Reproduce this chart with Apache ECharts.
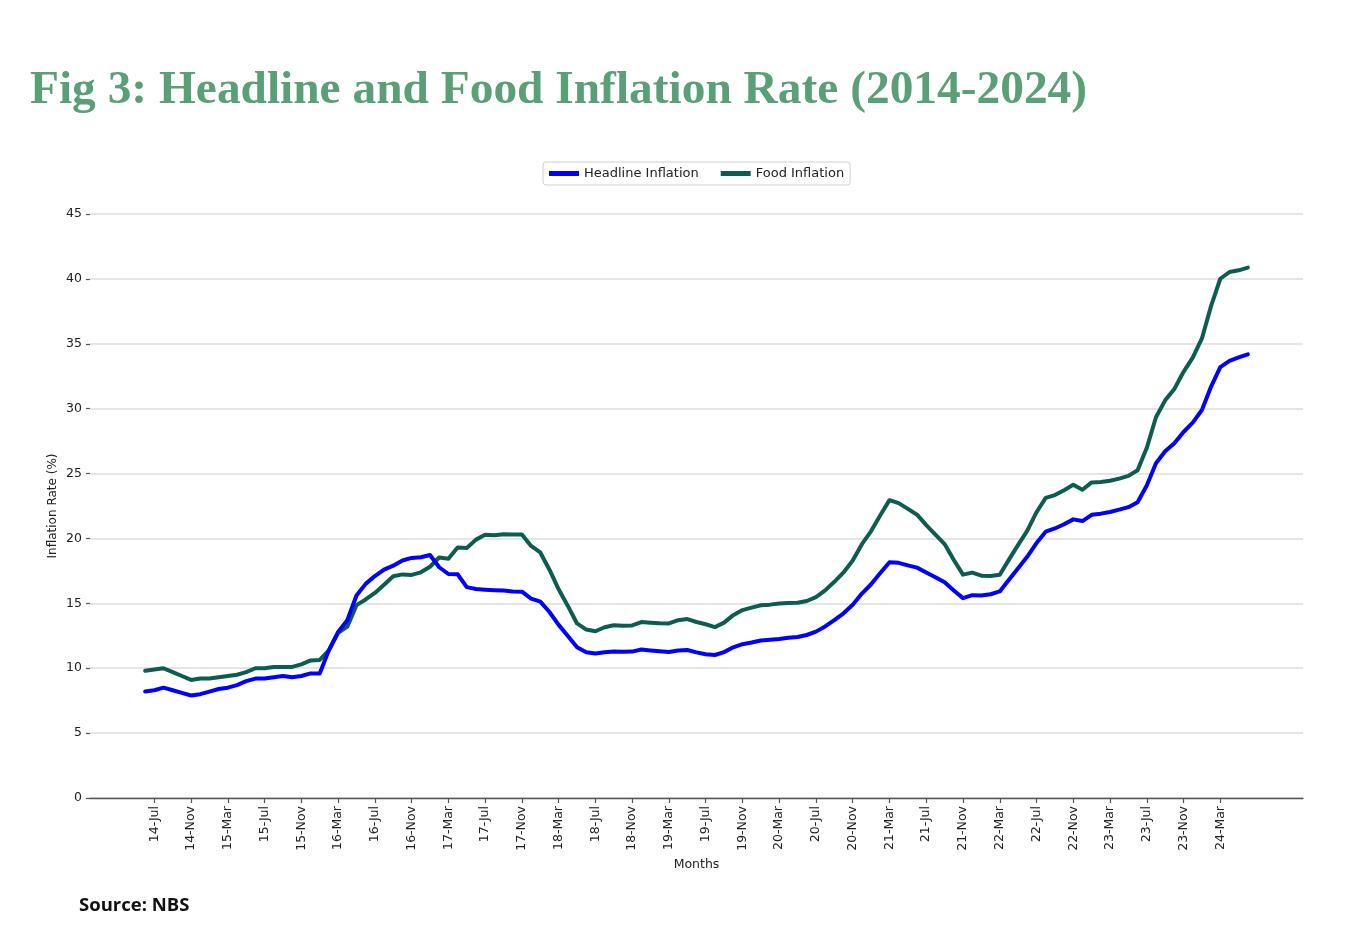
<!DOCTYPE html>
<html>
<head>
<meta charset="utf-8">
<script src="https://cdn.jsdelivr.net/npm/echarts@6/dist/echarts.min.js"></script>
<style>
  html, body { margin: 0; padding: 0; background: #ffffff; }
  #chart { width: 1351px; height: 946px; }
</style>
</head>
<body>
<div id="chart"></div>
<script>
// Monthly data, Jun 2014 (index 0) to Jun 2024 (index 120)
const headline = [
  8.2, 8.3, 8.5, 8.3, 8.1, 7.9, 8.0,
  8.2, 8.4, 8.5, 8.7, 9.0, 9.2, 9.2, 9.3, 9.4, 9.3, 9.4, 9.6,
  9.6, 11.4, 12.8, 13.7, 15.6, 16.5, 17.1, 17.6, 17.9, 18.3, 18.5, 18.55,
  18.72, 17.78, 17.26, 17.24, 16.25, 16.10, 16.05, 16.01, 15.98, 15.91, 15.90, 15.37,
  15.13, 14.33, 13.34, 12.48, 11.61, 11.23, 11.14, 11.23, 11.28, 11.26, 11.28, 11.44,
  11.37, 11.31, 11.25, 11.37, 11.40, 11.22, 11.08, 11.02, 11.24, 11.61, 11.85, 11.98,
  12.13, 12.20, 12.26, 12.34, 12.40, 12.56, 12.82, 13.22, 13.71, 14.23, 14.89, 15.75,
  16.47, 17.33, 18.17, 18.12, 17.93, 17.75, 17.38, 17.01, 16.63, 15.99, 15.40, 15.63,
  15.60, 15.70, 15.92, 16.82, 17.71, 18.60, 19.64, 20.52, 20.77, 21.09, 21.47, 21.34,
  21.82, 21.91, 22.04, 22.22, 22.41, 22.79, 24.08, 25.80, 26.72, 27.33, 28.20, 28.92,
  29.90, 31.70, 33.20, 33.69, 33.95, 34.19
];
const food = [
  9.8, 9.9, 10.0, 9.7, 9.4, 9.1, 9.2,
  9.2, 9.3, 9.4, 9.5, 9.7, 10.0, 10.0, 10.1, 10.1, 10.1, 10.3, 10.6,
  10.64, 11.38, 12.72, 13.20, 14.86, 15.30, 15.80, 16.43, 17.09, 17.23, 17.19, 17.39,
  17.82, 18.53, 18.44, 19.30, 19.27, 19.91, 20.28, 20.25, 20.32, 20.31, 20.31, 19.42,
  18.92, 17.59, 16.08, 14.80, 13.45, 12.98, 12.85, 13.16, 13.31, 13.28, 13.30, 13.56,
  13.51, 13.47, 13.45, 13.70, 13.79, 13.56, 13.39, 13.17, 13.51, 14.09, 14.48, 14.67,
  14.85, 14.90, 14.98, 15.03, 15.04, 15.18, 15.48, 16.00, 16.66, 17.38, 18.30, 19.56,
  20.57, 21.79, 22.95, 22.72, 22.28, 21.83, 21.03, 20.30, 19.57, 18.34, 17.21, 17.37,
  17.13, 17.11, 17.20, 18.37, 19.50, 20.60, 22.02, 23.12, 23.34, 23.72, 24.13, 23.75,
  24.32, 24.35, 24.45, 24.61, 24.82, 25.25, 26.98, 29.34, 30.64, 31.52, 32.84, 33.93,
  35.41, 37.92, 40.01, 40.53, 40.66, 40.87
];
// Tick labels, every 4 months starting at Jul 2014 (index 1)
const tickLabels = [
  '14-Jul', '14-Nov', '15-Mar', '15-Jul', '15-Nov', '16-Mar', '16-Jul', '16-Nov',
  '17-Mar', '17-Jul', '17-Nov', '18-Mar', '18-Jul', '18-Nov', '19-Mar', '19-Jul',
  '19-Nov', '20-Mar', '20-Jul', '20-Nov', '21-Mar', '21-Jul', '21-Nov', '22-Mar',
  '22-Jul', '22-Nov', '23-Mar', '23-Jul', '23-Nov', '24-Mar'
];
const tickStart = 1;
const tickStep = 4;

const tickValues = tickLabels.map((_, k) => tickStart + k * tickStep);
const toPairs = arr => arr.map((v, i) => [i, v]);
const n = headline.length - 1;

const chart = echarts.init(document.getElementById('chart'), null, { renderer: 'canvas' });
const axisFont = 'DejaVu Sans';

chart.setOption({
  backgroundColor: '#ffffff',
  animation: false,
  graphic: [
    {
      type: 'text',
      left: 30,
      top: 67,
      style: {
        text: 'Fig 3: Headline and Food Inflation Rate (2014-2024)',
        font: 'bold 47.4px "Liberation Serif"',
        fill: '#5a9f76'
      }
    },
    {
      type: 'text',
      left: 79,
      top: 896,
      style: {
        text: 'Source: NBS',
        font: 'bold 18.5px "Open Sans"',
        fill: '#111111'
      }
    }
  ],
  legend: {
    left: 543,
    top: 162,
    padding: [5, 6, 5, 6],
    itemGap: 22,
    itemWidth: 30,
    itemHeight: 5,
    icon: 'rect',
    borderColor: '#d0d0d0',
    borderWidth: 1,
    borderRadius: 3,
    textStyle: { fontFamily: axisFont, fontSize: 13, color: '#222222' },
    data: ['Headline Inflation', 'Food Inflation']
  },
  grid: { left: 90, right: 48, top: 214, bottom: 148, containLabel: false },
  xAxis: {
    type: 'value',
    min: -(n * 0.05),
    max: n * 1.05,
    name: 'Months',
    nameLocation: 'middle',
    nameGap: 60,
    nameTextStyle: { fontFamily: axisFont, fontSize: 12.5, color: '#222222' },
    axisLine: { show: true, onZero: false, lineStyle: { color: '#555555', width: 1.3 } },
    axisTick: { show: true, customValues: tickValues, length: 5, lineStyle: { color: '#555555', width: 1.2 } },
    axisLabel: {
      customValues: tickValues,
      rotate: 90,
      margin: 8,
      fontFamily: axisFont,
      fontSize: 12.5,
      color: '#222222',
      formatter: v => tickLabels[Math.round((v - tickStart) / tickStep)] || ''
    },
    splitLine: { show: false }
  },
  yAxis: {
    type: 'value',
    min: 0,
    max: 45,
    interval: 5,
    name: 'Inflation Rate (%)',
    nameLocation: 'middle',
    nameGap: 31,
    nameRotate: 90,
    nameMoveOverlap: false,
    nameTextStyle: { fontFamily: axisFont, fontSize: 12, color: '#222222' },
    axisLine: { show: false, onZero: false },
    axisTick: { show: true, length: 4, lineStyle: { color: '#555555', width: 1.2 } },
    axisLabel: { margin: 8, fontFamily: axisFont, fontSize: 12.5, color: '#222222' },
    splitLine: { show: true, lineStyle: { color: '#dcdcdc', width: 1.6 } }
  },
  series: [
    {
      name: 'Headline Inflation',
      type: 'line',
      data: toPairs(headline),
      showSymbol: false,
      color: '#0000ff',
      lineStyle: { width: 4, color: '#0000ff', cap: 'round', join: 'round' },
      z: 3
    },
    {
      name: 'Food Inflation',
      type: 'line',
      data: toPairs(food),
      showSymbol: false,
      color: '#0d5c50',
      lineStyle: { width: 4, color: '#0d5c50', cap: 'round', join: 'round' },
      z: 2
    }
  ]
});
</script>
</body>
</html>
